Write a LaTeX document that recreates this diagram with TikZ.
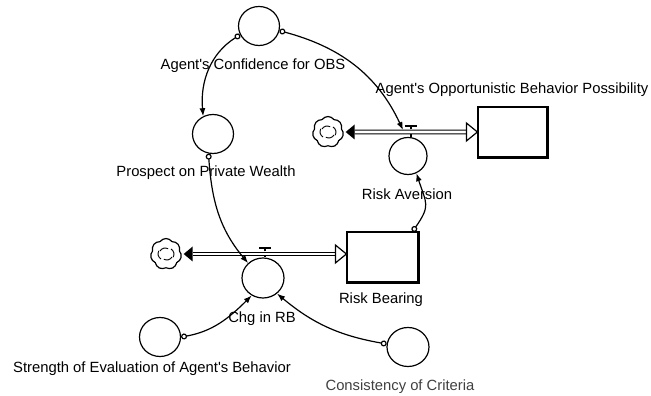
\documentclass[tikz,border=0pt]{standalone}
\usepackage{fontspec}
\setmainfont{Liberation Sans}
\usepackage{tikz}
\usetikzlibrary{arrows.meta, shapes.geometric, shapes.symbols}

\begin{document}
\begin{tikzpicture}[x=1pt, y=1pt, line width=1.2pt, font=\fontsize{14.8}{17}\selectfont,
        aux/.style={ellipse, draw, minimum width=41pt, minimum height=39pt, inner sep=0pt},
        stock/.style={rectangle, draw, inner sep=0pt},
        src/.style={cloud, draw, cloud puffs=7, cloud puff arc=110, aspect=1, minimum size=31pt, inner sep=0pt},
        lbl/.style={inner sep=0pt},
        link/.style={{Circle[open, length=6pt]}-{Latex[length=8pt, width=6pt]}},
        pipe/.style={double=white, double distance=2.6pt, line width=1.1pt}]
        \useasboundingbox (0, 0) rectangle (651, 396);

        % Nodes
        \node[aux] (conf) at (259, 370) {};
        \node[aux] (prosp) at (213, 262) {};
        \node[aux, minimum width=38pt, minimum height=37pt] (riskav) at (408, 240) {};
        \node[aux, minimum width=42pt, minimum height=40pt] (chg) at (263, 118) {};
        \node[aux] (strength) at (160, 59) {};
        \node[aux, minimum width=42pt] (consist) at (408, 49) {};
        \node[stock, minimum width=69pt, minimum height=50pt] (opp) at (512.5, 264) {};
        \node[stock, minimum width=71pt, minimum height=50pt] (rb) at (382.5, 139) {};
        \node[src] (cloudT) at (328, 264) {};
        \node[src] (cloudB) at (166, 142) {};
        \coordinate (vT) at (411, 264);
        \coordinate (vB) at (265, 142);
        \coordinate (vTend) at (403, 266);

        % Labels
        \node[lbl] (confL) at (253, 330) {Agent\textquotesingle s Confidence for OBS};
        \node[lbl] (prospL) at (206, 223) {Prospect on Private Wealth};
        \node[lbl] (oppL) at (512, 306) {Agent\textquotesingle s Opportunistic Behavior Possibility};
        \node[lbl] (riskavL) at (407, 202) {Risk Aversion};
        \node[lbl] (rbL) at (381, 96) {Risk Bearing};
        \node[lbl] (chgL) at (262, 77) {Chg in RB};
        \node[lbl] (strengthL) at (152, 27) {Strength of Evaluation of Agent\textquotesingle s Behavior};
        \node[lbl, text=black!75] (consistL) at (400, 9) {Consistency of Criteria};

        % Stock shadows
        \draw[line width=2.4pt] (opp.north east) -- (opp.south east) -- (opp.south west);
        \draw[line width=2.4pt] (rb.north east) -- (rb.south east) -- (rb.south west);

        % Cloud swirls
        \draw[line width=0.9pt] (cloudT.center) ++(-6, 3) arc (150:60:6) (cloudT.center) ++(5, 5) arc (60:-30:6)
            (cloudT.center) ++(6, -3) arc (-30:-120:6) (cloudT.center) ++(-5, -5) arc (-120:-210:6);
        \draw[line width=0.9pt] (cloudB.center) ++(-6, 3) arc (150:60:6) (cloudB.center) ++(5, 5) arc (60:-30:6)
            (cloudB.center) ++(6, -3) arc (-30:-120:6) (cloudB.center) ++(-5, -5) arc (-120:-210:6);

        % Flows
        \draw (vT) -- (vT |- riskav.north);
        \draw (vB) -- (vB |- chg.north);
        \draw[pipe] ([xshift=11pt]cloudT.east) -- ([xshift=-11pt]opp.west);
        \fill ([xshift=2pt]cloudT.east) -- ++(9, 7.5) -- ++(0, -15) -- cycle;
        \draw[fill=white] (opp.west) -- ++(-11, 9) -- ++(0, -18) -- cycle;
        \draw ([yshift=2.5pt]vT) -- ([yshift=6pt]vT);
        \draw ([shift={(-6pt, 6pt)}]vT) -- ([shift={(6pt, 6pt)}]vT);

        \draw[pipe] ([xshift=11pt]cloudB.east) -- ([xshift=-11pt]rb.west |- cloudB.east);
        \fill ([xshift=2pt]cloudB.east) -- ++(9, 7.5) -- ++(0, -15) -- cycle;
        \draw[fill=white] (rb.west |- cloudB.east) -- ++(-11, 9) -- ++(0, -18) -- cycle;
        \draw ([yshift=2.5pt]vB) -- ([yshift=6pt]vB);
        \draw ([shift={(-6pt, 6pt)}]vB) -- ([shift={(6pt, 6pt)}]vB);

        % Links
        \draw[link] (conf.205) to[out=212, in=95] (prosp.119);
        \draw[link] (conf.-13) to[out=-15, in=115] (vTend);
        \draw[link] (prosp.257) to[out=-86, in=130] (chg.135);
        \draw[link] ([xshift=-6pt]rb.north east) to[out=55, in=-72, looseness=1.4] (riskav.-64);
        \draw[link] (strength.east) to[out=10, in=225] (chg.237);
        \draw[link] (consist.172) to[out=170, in=-40] (chg.-48);
    \end{tikzpicture}
\end{document}
